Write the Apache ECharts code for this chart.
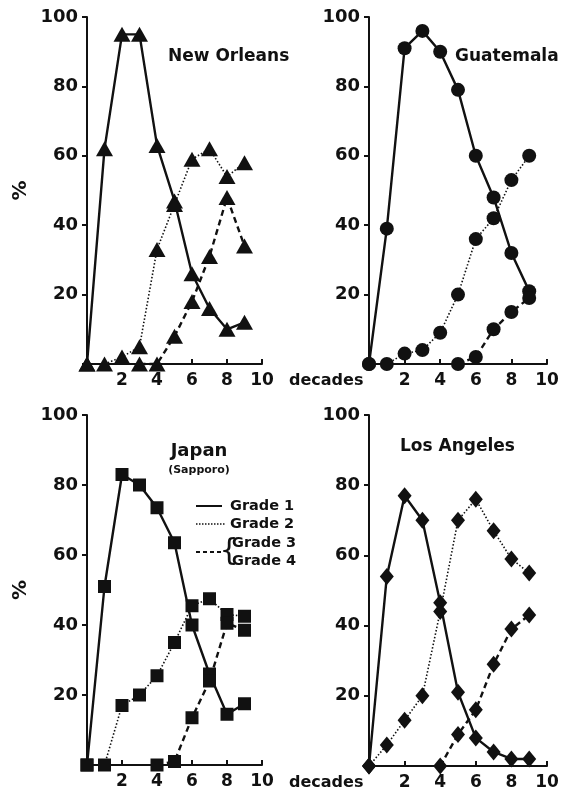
<!DOCTYPE html>
<html><head><meta charset="utf-8">
<script src="https://cdn.jsdelivr.net/npm/echarts@6/dist/echarts.min.js"></script>
<style>html,body{margin:0;padding:0;background:#fff}#c{width:565px;height:800px}</style>
</head><body><div id="c"></div>
<script>
// ---- data ----
const decades = [0, 1, 2, 3, 4, 5, 6, 7, 8, 9];
const xTickLabels = [2, 4, 6, 8, 10];
const yTickLabels = [20, 40, 60, 80, 100];
const panelTitles = ['New Orleans', 'Guatemala', 'Japan', 'Los Angeles'];
const legendLabels = ['Grade 1', 'Grade 2', 'Grade 3', 'Grade 4'];

const newOrleansGrade1 = [0, 62, 95, 95, 63, 47, 26, 16, 10, 12];
const newOrleansGrade2 = [0, 0, 2, 5, 33, 46, 59, 62, 54, 58];
const newOrleansGrade34 = [null, null, null, 0, 0, 8, 18, 31, 48, 34];

const guatemalaGrade1 = [0, 39, 91, 96, 90, 79, 60, 48, 32, 21];
const guatemalaGrade2 = [0, 0, 3, 4, 9, 20, 36, 42, 53, 60];
const guatemalaGrade34 = [null, null, null, null, null, 0, 2, 10, 15, 19];

const japanGrade1 = [0, 51, 83, 80, 73.5, 63.5, 40, 26, 14.5, 17.5];
const japanGrade2 = [0, 0, 17, 20, 25.5, 35, 45.5, 47.5, 43, 42.5];
const japanGrade34 = [null, null, null, null, 0, 1, 13.5, 24, 40.5, 38.5];

const losAngelesGrade1 = [0, 54, 77, 70, 46.5, 21, 8, 4, 2, 2];
const losAngelesGrade2 = [0, 6, 13, 20, 44, 70, 76, 67, 59, 55];
const losAngelesGrade34 = [null, null, null, null, 0, 9, 16, 29, 39, 43];

// ---- chart ----
const FONT = 'DejaVu Sans';
const INK = '#111';
const grids = [
  {left: 87, top: 17, width: 175, height: 347},
  {left: 369, top: 17, width: 178, height: 347},
  {left: 87, top: 415, width: 175, height: 350},
  {left: 369, top: 415, width: 178, height: 351}
];
const symbols = [
  {symbol: 'triangle', size: [17, 15]},
  {symbol: 'circle', size: 14},
  {symbol: 'rect', size: 13},
  {symbol: 'diamond', size: [14, 17]}
];
const panelData = [
  [newOrleansGrade1, newOrleansGrade2, newOrleansGrade34],
  [guatemalaGrade1, guatemalaGrade2, guatemalaGrade34],
  [japanGrade1, japanGrade2, japanGrade34],
  [losAngelesGrade1, losAngelesGrade2, losAngelesGrade34]
];
const lineStyles = [
  {type: 'solid', width: 2.4},
  {type: [1.5, 2], width: 1.6},
  {type: [6, 4], width: 2.4}
];

function pts(vals) {
  const out = [];
  decades.forEach((d, i) => { if (vals[i] !== null) out.push([d, vals[i]]); });
  return out;
}

const xAxes = grids.map((g, i) => ({
  gridIndex: i, type: 'value', min: 0, max: 10, interval: 2,
  axisLine: {show: true, onZero: true, lineStyle: {color: INK, width: 2}},
  axisTick: {show: true, inside: true, length: 5, lineStyle: {color: INK, width: 2}},
  axisLabel: {
    margin: 8, color: INK, fontFamily: FONT, fontSize: 17, fontWeight: 'bold',
    formatter: v => xTickLabels.includes(v) ? String(v) : ''
  },
  splitLine: {show: false}
}));
const yAxes = grids.map((g, i) => ({
  gridIndex: i, type: 'value', min: 0, max: 100, interval: 20,
  name: (i % 2 === 0) ? '%' : '',
  nameLocation: 'middle', nameGap: 56, nameRotate: 90,
  nameTextStyle: {color: INK, fontFamily: FONT, fontSize: 20, fontWeight: 'bold'},
  axisLine: {show: true, lineStyle: {color: INK, width: 2}},
  axisTick: {show: true, inside: false, length: 5, lineStyle: {color: INK, width: 2}},
  axisLabel: {
    margin: 9, color: INK, fontFamily: FONT, fontSize: 18, fontWeight: 'bold',
    formatter: v => yTickLabels.includes(v) ? String(v) : ''
  },
  splitLine: {show: false}
}));

const series = [];
panelData.forEach((grades, p) => {
  grades.forEach((vals, k) => {
    series.push({
      type: 'line', xAxisIndex: p, yAxisIndex: p,
      data: pts(vals), clip: false,
      symbol: symbols[p].symbol, symbolSize: symbols[p].size,
      itemStyle: {color: INK},
      lineStyle: Object.assign({color: INK}, lineStyles[k]),
      z: 3
    });
  });
});

const txt = (x, y, text, size, extra) => ({
  type: 'text', x, y,
  style: Object.assign({text, fill: INK, font: 'bold ' + size + 'px "' + FONT + '"', verticalAlign: 'middle'}, extra || {})
});

const graphic = [
  txt(168, 57, panelTitles[0], 17),
  txt(455, 57, panelTitles[1], 17),
  txt(199, 451, panelTitles[2], 18, {align: 'center'}),
  txt(199, 470, '(Sapporo)', 11, {align: 'center'}),
  txt(400, 447, panelTitles[3], 17),
  txt(289, 381, 'decades', 16),
  txt(289, 783, 'decades', 16),
  // legend
  {type: 'line', shape: {x1: 196, y1: 506, x2: 222, y2: 506}, style: {stroke: INK, lineWidth: 2}},
  {type: 'line', shape: {x1: 196, y1: 524, x2: 226, y2: 524}, style: {stroke: INK, lineWidth: 1.5, lineDash: [1.5, 1.5]}},
  {type: 'line', shape: {x1: 196, y1: 552, x2: 224, y2: 552}, style: {stroke: INK, lineWidth: 2, lineDash: [4, 3]}},
  txt(230, 506, legendLabels[0], 14.5),
  txt(230, 524, legendLabels[1], 14.5),
  txt(232, 543, legendLabels[2], 14.5),
  txt(232, 561, legendLabels[3], 14.5),
  {type: 'text', x: 229, y: 552, style: {text: '{', fill: INK, font: '30px "DejaVu Sans"', align: 'center', verticalAlign: 'middle'}}
];

const chart = echarts.init(document.getElementById('c'), null, {renderer: 'canvas'});
chart.setOption({
  backgroundColor: '#fff',
  animation: false,
  grid: grids,
  xAxis: xAxes,
  yAxis: yAxes,
  series,
  graphic
});
</script></body></html>
